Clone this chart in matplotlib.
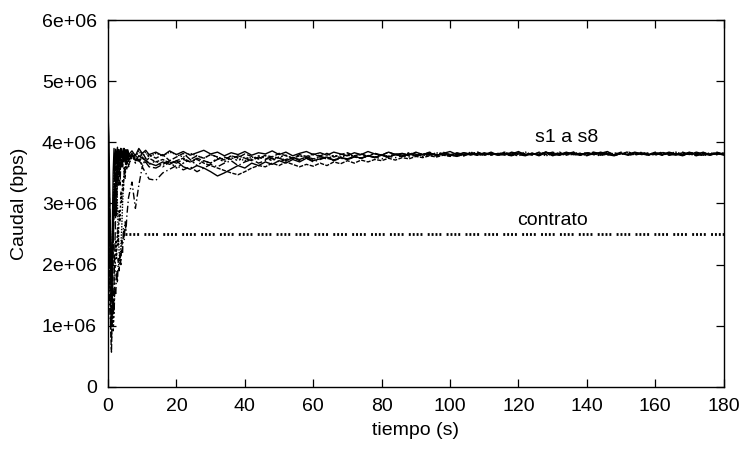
import matplotlib
matplotlib.use("Agg")
import matplotlib.pyplot as plt
import numpy as np

plt.rcParams['font.family'] = ['Liberation Sans', 'DejaVu Sans']

# Sample times (s): fine steps during start-up, then every 2 s
t_start = [0, 0.25, 0.5, 0.75, 1, 1.25, 1.5, 1.75, 2, 2.25, 2.5, 2.75,
           3, 3.25, 3.5, 3.75, 4, 4.25, 4.5, 4.75, 5, 5.25, 5.5, 5.75]
t_mid = [6, 7, 8, 9, 10, 11, 12]
t_late = [14, 16, 18, 20, 22, 24, 26, 28, 30, 32, 34, 36,
          38, 40, 42, 44, 46, 48, 50, 52, 54, 56, 58, 60,
          62, 64, 66, 68, 70, 72, 74, 76, 78, 80, 82, 84,
          86, 88, 90, 92, 94, 96, 98, 100, 102, 104, 106, 108,
          110, 112, 114, 116, 118, 120, 122, 124, 126, 128, 130, 132,
          134, 136, 138, 140, 142, 144, 146, 148, 150, 152, 154, 156,
          158, 160, 162, 164, 166, 168, 170, 172, 174, 176, 178, 180]
t = t_start + t_mid + t_late

# Throughput of each source (Mbps)
s1 = [4.45, 4.10, 3.20, 2.30, 1.70, 2.60, 3.50, 3.90, 3.60, 3.85, 3.70, 3.92,
      3.75, 3.88, 3.70, 3.90, 3.78, 3.86, 3.72, 3.90, 3.80, 3.87, 3.76, 3.88,
      3.80, 3.86, 3.78, 3.90, 3.82, 3.87, 3.80,
      3.84, 3.78, 3.86, 3.80, 3.85, 3.79, 3.83, 3.87, 3.81, 3.84, 3.78, 3.83,
      3.80, 3.85, 3.79, 3.83, 3.81, 3.86, 3.80, 3.84, 3.78, 3.82, 3.85, 3.80,
      3.83, 3.79, 3.84, 3.81, 3.78, 3.83, 3.80, 3.85, 3.81, 3.79, 3.84, 3.80,
      3.82, 3.79, 3.84, 3.80, 3.83, 3.78, 3.82, 3.85, 3.80, 3.83, 3.79, 3.82,
      3.80, 3.84, 3.79, 3.82, 3.81, 3.85, 3.79, 3.82, 3.80, 3.84, 3.78, 3.82,
      3.81, 3.84, 3.79, 3.83, 3.80, 3.82, 3.85, 3.79, 3.82, 3.80, 3.84, 3.81,
      3.79, 3.83, 3.80, 3.84, 3.81, 3.78, 3.83, 3.80, 3.84, 3.79, 3.82, 3.81]
s2 = [3.90, 3.10, 2.00, 0.95, 0.57, 1.30, 2.20, 3.10, 3.80, 3.40, 2.80, 3.60,
      3.88, 3.50, 3.75, 3.85, 3.62, 3.80, 3.90, 3.70, 3.82, 3.68, 3.86, 3.74,
      3.82, 3.72, 3.80, 3.70, 3.84, 3.74, 3.80,
      3.74, 3.80, 3.70, 3.76, 3.82, 3.72, 3.78, 3.74, 3.80, 3.76, 3.71, 3.78,
      3.75, 3.81, 3.77, 3.73, 3.79, 3.76, 3.82, 3.78, 3.74, 3.80, 3.77, 3.81,
      3.78, 3.82, 3.76, 3.80, 3.83, 3.78, 3.81, 3.77, 3.82, 3.79, 3.84, 3.80,
      3.81, 3.78, 3.83, 3.80, 3.84, 3.79, 3.82, 3.80, 3.78, 3.83, 3.81, 3.84,
      3.79, 3.82, 3.80, 3.84, 3.78, 3.83, 3.81, 3.79, 3.84, 3.80, 3.82, 3.79,
      3.83, 3.80, 3.82, 3.78, 3.84, 3.81, 3.79, 3.83, 3.80, 3.85, 3.79, 3.82,
      3.80, 3.84, 3.79, 3.82, 3.80, 3.83, 3.81, 3.78, 3.82, 3.80, 3.84, 3.80]
s3 = [2.80, 2.30, 1.70, 1.30, 1.10, 1.50, 0.90, 1.20, 1.80, 2.40, 2.10, 2.60,
      2.30, 2.90, 2.70, 3.20, 3.00, 3.40, 3.20, 3.60, 3.40, 3.75, 3.55, 3.85,
      3.62, 3.80, 3.66, 3.78, 3.60, 3.74, 3.64,
      3.70, 3.60, 3.68, 3.58, 3.66, 3.72, 3.62, 3.70, 3.66, 3.74, 3.68, 3.75,
      3.70, 3.76, 3.72, 3.78, 3.74, 3.70, 3.76, 3.79, 3.74, 3.78, 3.75, 3.80,
      3.77, 3.73, 3.79, 3.76, 3.81, 3.77, 3.80, 3.78, 3.82, 3.79, 3.77, 3.81,
      3.79, 3.83, 3.80, 3.78, 3.82, 3.80, 3.84, 3.79, 3.81, 3.78, 3.83, 3.80,
      3.82, 3.79, 3.81, 3.84, 3.80, 3.78, 3.82, 3.80, 3.83, 3.81, 3.79, 3.84,
      3.80, 3.82, 3.79, 3.81, 3.84, 3.80, 3.82, 3.78, 3.83, 3.81, 3.80, 3.84,
      3.81, 3.79, 3.83, 3.80, 3.82, 3.78, 3.84, 3.81, 3.79, 3.83, 3.80, 3.82]
s4 = [2.20, 1.80, 1.30, 1.00, 0.80, 1.10, 1.40, 1.20, 1.60, 1.50, 1.90, 1.70,
      2.10, 1.90, 2.20, 2.00, 2.40, 2.20, 2.60, 2.40, 2.70, 2.55, 2.80, 2.95,
      3.10, 3.35, 2.92, 3.30, 3.60, 3.50, 3.40,
      3.38, 3.50, 3.56, 3.62, 3.55, 3.60, 3.52, 3.58, 3.64, 3.60, 3.66, 3.70,
      3.62, 3.68, 3.72, 3.66, 3.70, 3.74, 3.68, 3.72, 3.76, 3.70, 3.74, 3.68,
      3.72, 3.76, 3.70, 3.74, 3.72, 3.76, 3.74, 3.78, 3.76, 3.73, 3.77, 3.75,
      3.78, 3.76, 3.79, 3.77, 3.80, 3.78, 3.81, 3.79, 3.77, 3.80, 3.82, 3.79,
      3.81, 3.79, 3.82, 3.80, 3.78, 3.83, 3.80, 3.82, 3.79, 3.81, 3.84, 3.80,
      3.82, 3.79, 3.81, 3.83, 3.80, 3.78, 3.82, 3.80, 3.84, 3.79, 3.81, 3.80,
      3.83, 3.80, 3.82, 3.79, 3.81, 3.84, 3.80, 3.82, 3.78, 3.81, 3.83, 3.80]
s5 = [3.50, 3.00, 2.40, 1.80, 1.40, 1.90, 2.60, 3.20, 2.80, 3.50, 3.30, 3.80,
      3.60, 3.85, 3.70, 3.90, 3.76, 3.84, 3.70, 3.88, 3.74, 3.82, 3.70, 3.86,
      3.75, 3.82, 3.70, 3.78, 3.74, 3.70, 3.66,
      3.62, 3.68, 3.64, 3.70, 3.60, 3.56, 3.62, 3.58, 3.52, 3.45, 3.50, 3.56,
      3.62, 3.58, 3.66, 3.62, 3.68, 3.64, 3.70, 3.66, 3.72, 3.68, 3.74, 3.70,
      3.73, 3.76, 3.71, 3.75, 3.73, 3.77, 3.74, 3.78, 3.75, 3.79, 3.76, 3.80,
      3.77, 3.81, 3.78, 3.80, 3.82, 3.79, 3.81, 3.78, 3.83, 3.80, 3.82, 3.79,
      3.83, 3.80, 3.81, 3.79, 3.84, 3.81, 3.80, 3.82, 3.78, 3.83, 3.81, 3.80,
      3.84, 3.80, 3.82, 3.79, 3.81, 3.83, 3.80, 3.78, 3.82, 3.80, 3.83, 3.81,
      3.80, 3.82, 3.79, 3.83, 3.81, 3.80, 3.84, 3.79, 3.81, 3.80, 3.82, 3.79]
s6 = [3.00, 2.50, 1.90, 1.40, 1.00, 1.60, 2.40, 3.00, 3.60, 3.90, 3.40, 3.70,
      3.30, 3.75, 3.55, 3.85, 3.60, 3.82, 3.68, 3.86, 3.72, 3.80, 3.66, 3.84,
      3.70, 3.80, 3.72, 3.68, 3.76, 3.70, 3.74,
      3.68, 3.72, 3.66, 3.70, 3.74, 3.68, 3.72, 3.66, 3.62, 3.58, 3.54, 3.50,
      3.47, 3.52, 3.58, 3.62, 3.60, 3.66, 3.62, 3.68, 3.64, 3.60, 3.64, 3.61,
      3.66, 3.62, 3.68, 3.65, 3.70, 3.66, 3.71, 3.68, 3.72, 3.70, 3.74, 3.71,
      3.75, 3.73, 3.77, 3.75, 3.78, 3.76, 3.79, 3.77, 3.80, 3.78, 3.81, 3.79,
      3.80, 3.82, 3.79, 3.81, 3.80, 3.83, 3.79, 3.82, 3.80, 3.84, 3.79, 3.81,
      3.79, 3.82, 3.80, 3.83, 3.81, 3.79, 3.84, 3.80, 3.82, 3.79, 3.81, 3.83,
      3.80, 3.81, 3.84, 3.79, 3.82, 3.80, 3.83, 3.81, 3.79, 3.82, 3.80, 3.83]
s7 = [3.70, 3.20, 2.60, 2.10, 1.80, 2.40, 2.90, 3.50, 3.80, 3.60, 3.40, 3.00,
      2.50, 2.20, 2.00, 2.30, 2.60, 3.00, 3.30, 3.60, 3.50, 3.80, 3.70, 3.86,
      3.60, 3.80, 3.74, 3.86, 3.78, 3.84, 3.76,
      3.82, 3.78, 3.84, 3.80, 3.76, 3.82, 3.78, 3.74, 3.80, 3.76, 3.72, 3.78,
      3.74, 3.70, 3.76, 3.73, 3.78, 3.72, 3.76, 3.70, 3.74, 3.78, 3.75, 3.72,
      3.76, 3.73, 3.78, 3.75, 3.79, 3.77, 3.74, 3.78, 3.76, 3.80, 3.77, 3.81,
      3.79, 3.82, 3.78, 3.81, 3.79, 3.83, 3.80, 3.78, 3.82, 3.80, 3.84, 3.81,
      3.79, 3.82, 3.80, 3.83, 3.79, 3.81, 3.84, 3.80, 3.82, 3.78, 3.81, 3.83,
      3.80, 3.84, 3.81, 3.79, 3.82, 3.80, 3.83, 3.79, 3.81, 3.84, 3.80, 3.82,
      3.79, 3.83, 3.80, 3.82, 3.84, 3.80, 3.81, 3.79, 3.83, 3.81, 3.80, 3.82]
s8 = [4.00, 3.50, 2.90, 2.40, 2.00, 1.60, 1.20, 1.70, 2.30, 2.90, 3.10, 3.60,
      3.80, 3.50, 3.30, 3.70, 3.90, 3.60, 3.75, 3.85, 3.65, 3.88, 3.75, 3.82,
      3.70, 3.78, 3.74, 3.70, 3.64, 3.68, 3.60,
      3.58, 3.64, 3.70, 3.66, 3.72, 3.68, 3.74, 3.70, 3.66, 3.72, 3.76, 3.72,
      3.78, 3.74, 3.70, 3.76, 3.72, 3.77, 3.74, 3.70, 3.75, 3.72, 3.76, 3.73,
      3.77, 3.74, 3.71, 3.75, 3.72, 3.76, 3.74, 3.78, 3.75, 3.79, 3.76, 3.80,
      3.78, 3.81, 3.79, 3.82, 3.80, 3.78, 3.83, 3.80, 3.82, 3.79, 3.81, 3.84,
      3.80, 3.82, 3.79, 3.81, 3.83, 3.80, 3.78, 3.82, 3.80, 3.84, 3.81, 3.79,
      3.83, 3.81, 3.79, 3.82, 3.80, 3.84, 3.81, 3.79, 3.82, 3.80, 3.83, 3.80,
      3.82, 3.80, 3.83, 3.81, 3.79, 3.82, 3.80, 3.84, 3.81, 3.79, 3.83, 3.81]

# Contracted rate (bps) and the interval it applies to
contract_rate = 2.5e6
contract_t = [5, 180]

x_ticks = [0, 20, 40, 60, 80, 100, 120, 140, 160, 180]
y_ticks = [0, 1e6, 2e6, 3e6, 4e6, 5e6, 6e6]
y_tick_labels = ['0', '1e+06', '2e+06', '3e+06', '4e+06', '5e+06', '6e+06']

fig = plt.figure(figsize=(7.4, 4.55), dpi=100)
ax = fig.add_axes([0.146, 0.1495, 0.832, 0.8065])

styles = ['-', (0, (4, 1.5)), (0, (1.5, 1.5)), (0, (5, 2, 1, 2)),
          '-', (0, (3, 1)), (0, (1, 1)), (0, (6, 2))]
series = [s1, s2, s3, s4, s5, s6, s7, s8]
for s, ls in zip(series, styles):
    ax.plot(t, np.array(s) * 1e6, color='black', lw=1.0, ls=ls)

ax.plot(contract_t, [contract_rate, contract_rate], color='black', lw=2.0,
        ls=(0, (0.7, 0.7, 0.7, 0.7, 0.7, 0.7, 0.7, 1.9)))

fs = 14
ax.text(134, 4.08e6, 's1 a s8', ha='center', va='center', fontsize=fs)
ax.text(130, 2.73e6, 'contrato', ha='center', va='center', fontsize=fs)

ax.set_xlim(0, 180)
ax.set_ylim(0, 6e6)
ax.set_xticks(x_ticks)
ax.set_xticklabels([str(v) for v in x_ticks])
ax.set_yticks(y_ticks)
ax.set_yticklabels(y_tick_labels)
ax.tick_params(direction='in', length=6, width=0.9, top=True, right=True,
               labelsize=fs, colors='black')
ax.tick_params(axis='x', pad=8)
ax.tick_params(axis='y', pad=8)
for sp in ax.spines.values():
    sp.set_linewidth(1.0)

ax.set_xlabel('tiempo (s)', fontsize=fs, labelpad=5)
ax.set_ylabel('Caudal (bps)', fontsize=fs, labelpad=10)

fig.savefig('out.png', dpi=100)
